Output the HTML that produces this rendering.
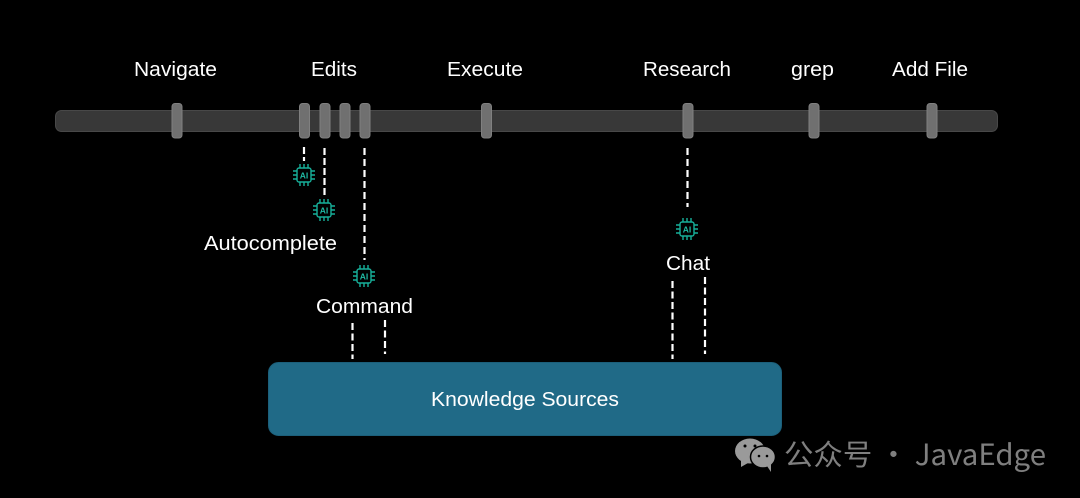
<!DOCTYPE html>
<html>
<head>
<meta charset="utf-8">
<style>
html,body{margin:0;padding:0;background:#000;width:1080px;height:498px;overflow:hidden}
svg{display:block}
text{font-family:"Liberation Sans","Noto Sans CJK SC",sans-serif;fill:#fff}
.l{font-size:20.5px}
.ai{font-size:8.5px;fill:#1fb8a2;font-weight:bold;text-anchor:middle}
.h{fill:#707070;stroke:#808080;stroke-width:1}
.d{stroke:#fff;stroke-width:2.2;fill:none}
</style>
</head>
<body>
<svg width="1080" height="498" viewBox="0 0 1080 498" xmlns="http://www.w3.org/2000/svg">
<defs>
<g id="chip" fill="none" stroke="#17b09a" stroke-width="1.4">
<rect x="-7" y="-7" width="14" height="14" rx="2"/>
<path d="M-4-7v-4M0-7v-4M4-7v-4M-4 7v4M0 7v4M4 7v4M-7-4h-4M-7 0h-4M-7 4h-4M7-4h4M7 0h4M7 4h4"/>
</g>
</defs>
<rect width="1080" height="498" fill="#000"/>

<rect x="55.500" y="110.500" width="942" height="21" rx="6" fill="#383838" stroke="#484848" stroke-width="1"/>

<rect class="h" x="172" y="103.500" width="10" height="34.500" rx="3"/>
<rect class="h" x="299.500" y="103.500" width="10" height="34.500" rx="3"/>
<rect class="h" x="320" y="103.500" width="10" height="34.500" rx="3"/>
<rect class="h" x="340" y="103.500" width="10" height="34.500" rx="3"/>
<rect class="h" x="360" y="103.500" width="10" height="34.500" rx="3"/>
<rect class="h" x="481.500" y="103.500" width="10" height="34.500" rx="3"/>
<rect class="h" x="683" y="103.500" width="10" height="34.500" rx="3"/>
<rect class="h" x="809" y="103.500" width="10" height="34.500" rx="3"/>
<rect class="h" x="927" y="103.500" width="10" height="34.500" rx="3"/>

<text class="l" x="134" y="76" textLength="83" lengthAdjust="spacingAndGlyphs">Navigate</text>
<text class="l" x="311" y="76" textLength="46" lengthAdjust="spacingAndGlyphs">Edits</text>
<text class="l" x="447" y="76" textLength="76" lengthAdjust="spacingAndGlyphs">Execute</text>
<text class="l" x="643" y="76" textLength="88" lengthAdjust="spacingAndGlyphs">Research</text>
<text class="l" x="791" y="76" textLength="43" lengthAdjust="spacingAndGlyphs">grep</text>
<text class="l" x="892" y="76" textLength="76" lengthAdjust="spacingAndGlyphs">Add File</text>

<line class="d" x1="304" y1="147" x2="304" y2="161" stroke-dasharray="7 3"/>
<line class="d" x1="324.500" y1="148" x2="324.500" y2="196" stroke-dasharray="7 3" stroke-width="2.600"/>
<line class="d" x1="364.500" y1="148" x2="364.500" y2="260" stroke-dasharray="7 4"/>
<line class="d" x1="687.500" y1="148" x2="687.500" y2="207" stroke-dasharray="7 4"/>
<line class="d" x1="352.500" y1="323" x2="352.500" y2="359" stroke-dasharray="7 3.500"/>
<line class="d" x1="385" y1="320" x2="385" y2="354" stroke-dasharray="7 3.500"/>
<line class="d" x1="672.500" y1="281" x2="672.500" y2="359" stroke-dasharray="7 3.500"/>
<line class="d" x1="705" y1="277" x2="705" y2="354" stroke-dasharray="7 3.500"/>

<use href="#chip" x="304" y="175"/><text class="ai" x="304" y="178.500">AI</text>
<use href="#chip" x="324" y="210"/><text class="ai" x="324" y="213.500">AI</text>
<use href="#chip" x="364" y="276"/><text class="ai" x="364" y="279.500">AI</text>
<use href="#chip" x="687" y="229"/><text class="ai" x="687" y="232.500">AI</text>

<text class="l" x="204" y="250" textLength="133" lengthAdjust="spacingAndGlyphs">Autocomplete</text>
<text class="l" x="316" y="313" textLength="97" lengthAdjust="spacingAndGlyphs">Command</text>
<text class="l" x="666" y="270" textLength="44" lengthAdjust="spacingAndGlyphs">Chat</text>

<rect x="268.500" y="362.500" width="513" height="73" rx="10" fill="#206a87" stroke="#1c5f7a" stroke-width="1"/>
<text class="l" x="431" y="406" textLength="188" lengthAdjust="spacingAndGlyphs">Knowledge Sources</text>

<g fill="#9a9a9a">
<ellipse cx="750" cy="451" rx="15" ry="12.500"/>
<path d="M741 460l0 7 7-4z"/>
</g>
<g fill="#9a9a9a" stroke="#000" stroke-width="1.500">
<ellipse cx="763" cy="457" rx="12.500" ry="11"/>
</g>
<path d="M767 466l4 6 0-8z" fill="#9a9a9a"/>
<circle cx="745" cy="446" r="1.500" fill="#000"/><circle cx="755" cy="446" r="1.500" fill="#000"/>
<circle cx="759" cy="456" r="1.300" fill="#000"/><circle cx="767" cy="456" r="1.300" fill="#000"/>
<text x="784" y="465" font-size="29" style="fill:#7f7f7f;font-family:'Noto Sans CJK SC',sans-serif" textLength="262" lengthAdjust="spacingAndGlyphs">公众号 · JavaEdge</text>
</svg>
</body>
</html>
